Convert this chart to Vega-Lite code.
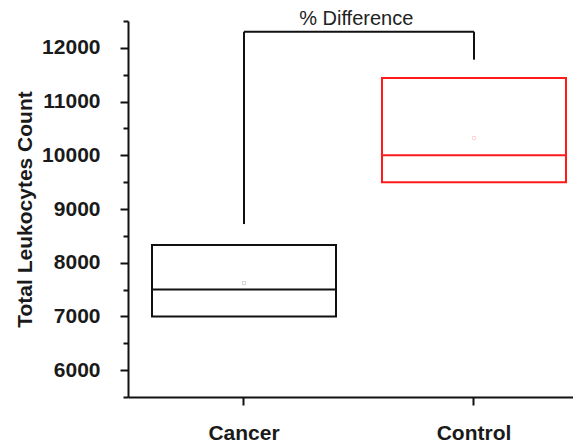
{
  "$schema": "https://vega.github.io/schema/vega-lite/v6.json",
  "width": 445,
  "height": 376,
  "autosize": {"type": "none"},
  "padding": {"left": 128, "top": 21, "right": 0, "bottom": 48},
  "background": "white",
  "config": {
    "view": {"stroke": null},
    "font": "Liberation Sans",
    "axis": {
      "domainColor": "#111111",
      "domainWidth": 2,
      "tickColor": "#111111",
      "tickWidth": 2,
      "grid": false,
      "labelFont": "Liberation Sans",
      "labelFontSize": 21,
      "labelFontWeight": "bold",
      "labelColor": "#1a1a1a",
      "titleFont": "Liberation Sans",
      "titleFontSize": 21,
      "titleFontWeight": "bold",
      "titleColor": "#1a1a1a"
    }
  },
  "datasets": {
    "boxes": [
      {"group": "Cancer", "q1": 7000, "median": 7500, "q3": 8330, "mean": 7620},
      {"group": "Control", "q1": 9500, "median": 10000, "q3": 11440, "mean": 10320}
    ],
    "bracket": [
      {"from": "Cancer", "to": "Cancer", "y": 8720, "y2": 12300},
      {"from": "Cancer", "to": "Control", "y": 12300, "y2": 12300},
      {"from": "Control", "to": "Control", "y": 11780, "y2": 12300}
    ],
    "label": [
      {"group": "Cancer", "y": 12300, "text": "% Difference"}
    ]
  },
  "resolve": {"axis": {"y": "independent"}},
  "layer": [
    {
      "data": {"name": "boxes"},
      "mark": {"type": "bar", "fill": null, "strokeWidth": 2},
      "encoding": {
        "x": {
          "field": "group", "type": "nominal",
          "scale": {"type": "band", "domain": ["Cancer", "Control"], "paddingInner": 0.2, "paddingOuter": 0.0674, "align": 0.774},
          "axis": {"title": null, "labelAngle": 0, "tickSize": 8, "labelPadding": 17, "orient": "bottom"}
        },
        "y": {
          "field": "q1", "type": "quantitative",
          "scale": {"domain": [5500, 12500], "nice": false, "zero": false},
          "axis": {
            "orient": "left",
            "values": [6000, 7000, 8000, 9000, 10000, 11000, 12000],
            "format": "d",
            "tickSize": 8,
            "labelPadding": 20,
            "title": "Total Leukocytes Count",
            "titleAngle": 270,
            "titleX": -103,
            "titleY": 188,
            "titleAlign": "center",
            "titleBaseline": "middle"
          }
        },
        "y2": {"field": "q3"},
        "stroke": {
          "field": "group", "type": "nominal",
          "scale": {"domain": ["Cancer", "Control"], "range": ["#111111", "#ff1a1a"]},
          "legend": null
        }
      }
    },
    {
      "data": {"name": "boxes"},
      "mark": {"type": "bar", "fill": null, "strokeWidth": 2},
      "encoding": {
        "x": {"field": "group", "type": "nominal"},
        "y": {
          "field": "median", "type": "quantitative",
          "axis": {
            "orient": "left",
            "values": [5500, 6500, 7500, 8500, 9500, 10500, 11500, 12500],
            "tickSize": 5,
            "labels": false,
            "domain": false,
            "title": null
          }
        },
        "y2": {"field": "median"},
        "stroke": {"field": "group", "type": "nominal", "legend": null}
      }
    },
    {
      "data": {"name": "boxes"},
      "mark": {"type": "point", "shape": "square", "size": 10, "strokeWidth": 0.6, "opacity": 0.3},
      "encoding": {
        "x": {"field": "group", "type": "nominal"},
        "y": {"field": "mean", "type": "quantitative", "axis": null},
        "stroke": {"field": "group", "type": "nominal", "legend": null}
      }
    },
    {
      "data": {"name": "bracket"},
      "mark": {"type": "rule", "strokeWidth": 2, "color": "#111111"},
      "encoding": {
        "x": {"field": "from", "type": "nominal"},
        "x2": {"field": "to"},
        "y": {"field": "y", "type": "quantitative", "axis": null},
        "y2": {"field": "y2"}
      }
    },
    {
      "data": {"name": "label"},
      "mark": {"type": "text", "fontSize": 20, "color": "#222222", "baseline": "bottom", "align": "center", "dy": -3},
      "encoding": {
        "x": {"field": "group", "type": "nominal", "bandPosition": 1.11},
        "y": {"field": "y", "type": "quantitative", "axis": null},
        "text": {"field": "text"}
      }
    }
  ]
}
